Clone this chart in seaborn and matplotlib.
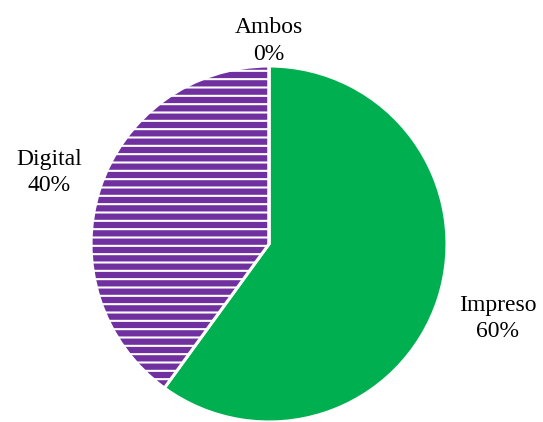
import numpy as np
import seaborn as sns
from matplotlib import pyplot as plt

# datos del gráfico
categorias = ["Impreso", "Digital", "Ambos"]
porcentajes = [60, 40, 0]
colores = ["#00B050", "#7030A0", "#7F7F7F"]
distancias = [1.35, 1.30, 1.14]

sns.set_theme(style="white")
plt.rcParams['font.family'] = ['Liberation Serif', 'DejaVu Serif']
plt.rcParams['hatch.linewidth'] = 1.5

fig = plt.figure(figsize=(5.43, 4.22), dpi=100)
ax = fig.add_axes([0, 0, 1, 1])

wedges, textos = ax.pie(porcentajes, colors=colores, startangle=90, counterclock=False,
                        radius=1.0, wedgeprops=dict(edgecolor='white', linewidth=2.2),
                        labels=[f"{c}\n{p}%" for c, p in zip(categorias, porcentajes)],
                        labeldistance=1.3, textprops=dict(color='black', fontsize=17))

# trama en Digital
wedges[1].set_hatch('--')

# colocar etiquetas
for w, t, d in zip(wedges, textos, distancias):
    ang = np.deg2rad((w.theta1 + w.theta2) / 2)
    t.set_position((d * np.cos(ang), d * np.sin(ang)))
    t.set_ha('center')
    t.set_va('center')
    t.set_linespacing(1.33)

r_px = 178
cx, cy = 269, 422 - 244
ax.set_xlim(-cx / r_px, (543 - cx) / r_px)
ax.set_ylim(-cy / r_px, (422 - cy) / r_px)
ax.axis('off')

fig.savefig("out.png", dpi=100)
